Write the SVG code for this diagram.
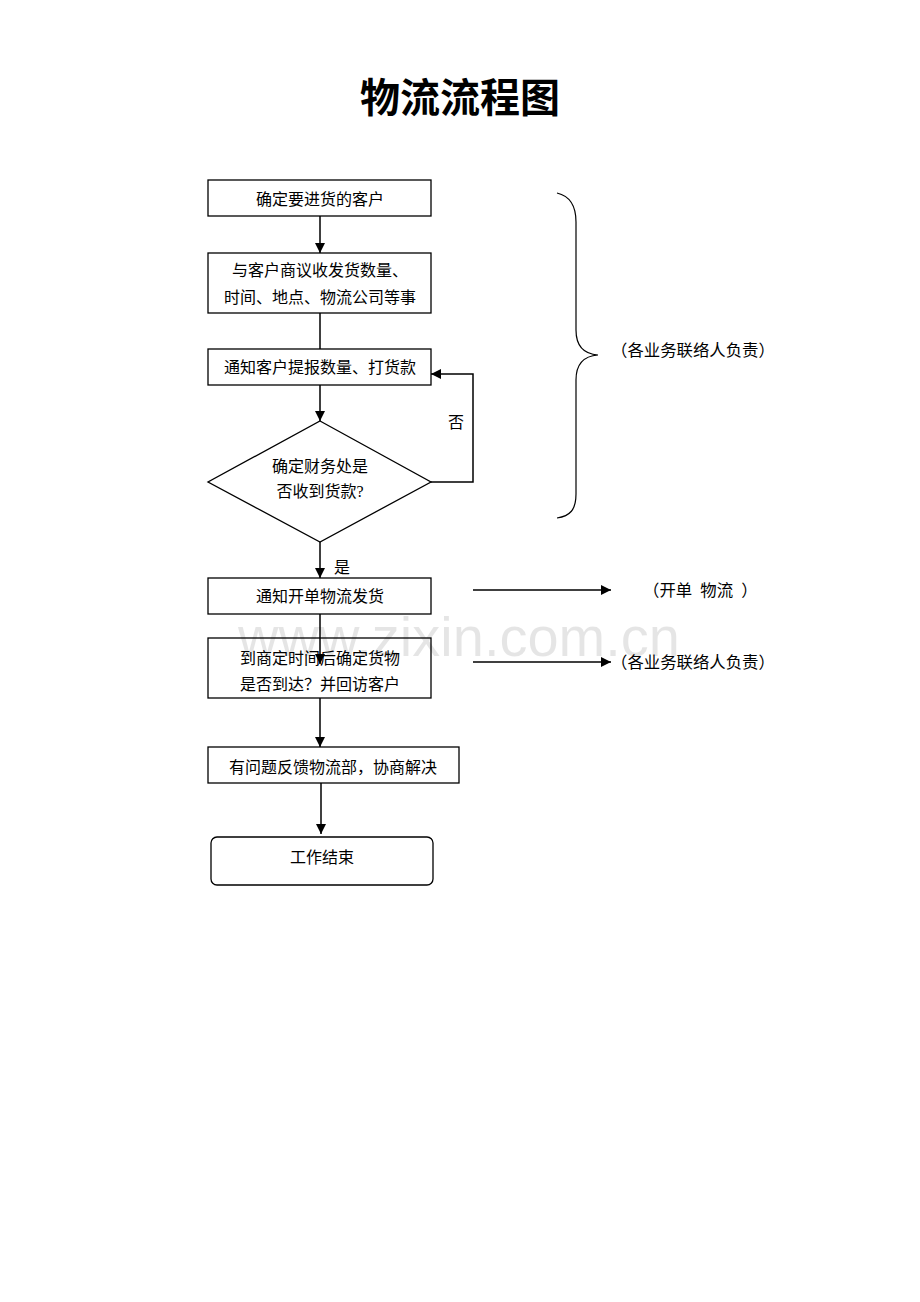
<svg xmlns="http://www.w3.org/2000/svg" width="920" height="1302" viewBox="0 0 920 1302">
<defs>
<marker id="ah" viewBox="0 0 10 10" refX="10" refY="5" markerWidth="10" markerHeight="10" markerUnits="userSpaceOnUse" orient="auto">
<path d="M0,0 L10,5 L0,10 Z" fill="#000"/>
</marker>
<style>
.box{fill:#fff;stroke:#000;stroke-width:1.3}
.t{font-family:"Liberation Serif","Noto Sans CJK SC",serif;font-size:16px;fill:#000;text-anchor:middle;dominant-baseline:central}
.l{font-family:"Liberation Serif","Noto Sans CJK SC",serif;font-size:16px;fill:#000;dominant-baseline:central}
.c{fill:none;stroke:#000;stroke-width:1.5}
</style>
</defs>
<rect width="920" height="1302" fill="#fff"/>
<text x="460" y="98" style="font-family:'Liberation Serif','Noto Sans CJK SC',serif;font-size:40px;font-weight:bold;text-anchor:middle;dominant-baseline:central">物流流程图</text>

<g id="n1"><rect class="box" x="208" y="180" width="223" height="36"/><text class="t" x="320" y="199">确定要进货的客户</text></g>
<g id="n2"><rect class="box" x="208" y="253" width="223" height="60"/><text class="t" x="320" y="270">与客户商议收发货数量、</text><text class="t" x="320" y="297">时间、地点、物流公司等事</text></g>
<g id="n3"><rect class="box" x="208" y="349" width="223" height="36"/><text class="t" x="320" y="367">通知客户提报数量、打货款</text></g>
<g id="n4"><polygon class="box" points="320,421 431,482 320,542 208,482"/><text class="t" x="320" y="466">确定财务处是</text><text class="t" x="320" y="491">否收到货款?</text></g>
<g id="n5"><rect class="box" x="208" y="578" width="223" height="36"/><text class="t" x="320" y="596">通知开单物流发货</text></g>
<g id="n6"><rect class="box" x="208" y="638" width="223" height="60"/><text class="t" x="320" y="658">到商定时间后确定货物</text><text class="t" x="320" y="684">是否到达？并回访客户</text></g>
<g id="n7"><rect class="box" x="208" y="747" width="251" height="36"/><text class="t" x="333" y="767">有问题反馈物流部，协商解决</text></g>
<g id="n8"><rect class="box" x="211" y="837" width="222" height="48" rx="6"/><text class="t" x="322" y="857">工作结束</text></g>

<g id="connectors">
<line class="c" x1="320" y1="216" x2="320" y2="253" marker-end="url(#ah)"/>
<line class="c" x1="320" y1="313" x2="320" y2="349"/>
<line class="c" x1="320" y1="385" x2="320" y2="421" marker-end="url(#ah)"/>
<polyline class="c" points="431,482 473,482 473,374 431,374" marker-end="url(#ah)"/>
<line class="c" x1="320" y1="542" x2="320" y2="578" marker-end="url(#ah)"/>
<line class="c" x1="320" y1="614" x2="320" y2="664" marker-end="url(#ah)"/>
<line class="c" x1="320" y1="698" x2="320" y2="747" marker-end="url(#ah)"/>
<line class="c" x1="321" y1="783" x2="321" y2="834" marker-end="url(#ah)"/>
<line class="c" x1="473" y1="590" x2="611" y2="590" marker-end="url(#ah)"/>
<line class="c" x1="473" y1="662" x2="611" y2="662" marker-end="url(#ah)"/>
<text class="l" x="448" y="422">否</text>
<text class="l" x="334" y="567">是</text>
</g>

<g id="brace">
<path d="M557,193 C570,196 576,206 576,222 L576,330 C576,346 584,354 598,355 C584,356 576,364 576,380 L576,494 C576,510 570,516 557,518" fill="none" stroke="#000" stroke-width="1.2"/>
<text class="l" x="611" y="350" style="font-size:16.4px">（各业务联络人负责）</text>
</g>
<g id="note1"><text class="l" x="643" y="590" xml:space="preserve" style="font-size:16.4px">（开单  物流  ）</text></g>
<g id="note2"><text class="l" x="611" y="662" style="font-size:16.4px">（各业务联络人负责）</text></g>

<text x="459" y="636" style="font-family:'Liberation Sans',sans-serif;font-size:56px;fill:#000;fill-opacity:0.1;text-anchor:middle;dominant-baseline:central">www.zixin.com.cn</text>
</svg>
